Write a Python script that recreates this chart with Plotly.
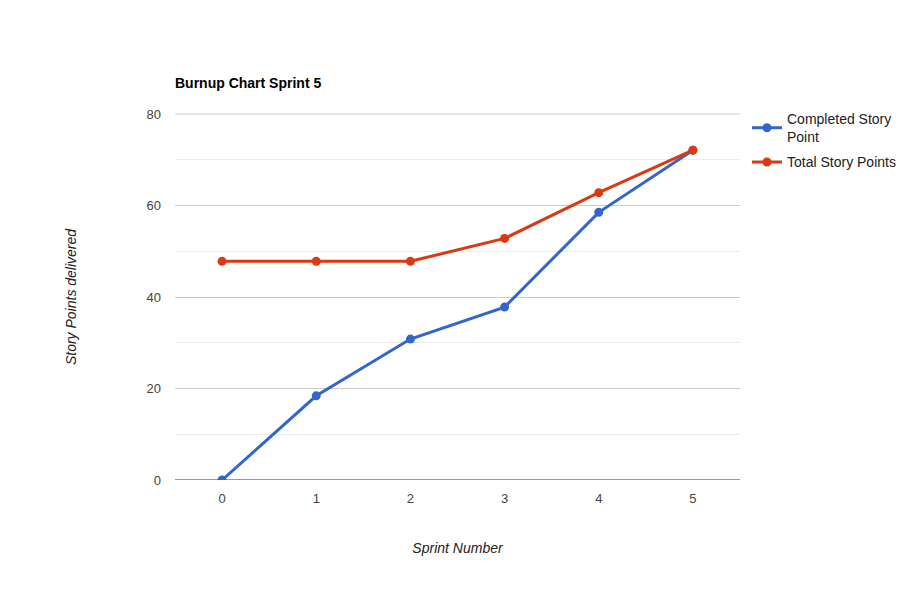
import plotly.graph_objects as go

sprints = [0, 1, 2, 3, 4, 5]
completed = [0, 18.4, 30.8, 37.8, 58.5, 72.1]
total = [47.8, 47.8, 47.8, 52.8, 62.8, 72.1]
series_names = ["Completed Story<br>Point", "Total Story Points"]
colors = ["#3366cc", "#dc3912"]

FONT = "Arial, Liberation Sans, sans-serif"

fig = go.Figure()
for i, (name, vals, c) in enumerate(zip(series_names, [completed, total], colors)):
    fig.add_trace(go.Scatter(
        x=sprints, y=vals, name=name, mode="lines+markers", legendgroup=f"g{i}",
        line=dict(color=c, width=3), marker=dict(color=c, size=9),
    ))

fig.update_layout(
    width=914, height=594,
    margin=dict(l=167, r=182, t=106, b=122),
    paper_bgcolor="white", plot_bgcolor="white",
    font=dict(family=FONT, size=13, color="#444444"),
    title=dict(text="<b>Burnup Chart Sprint 5</b>", x=167/914, xanchor="left",
               y=1-75/594, yanchor="middle",
               font=dict(family=FONT, size=14, color="#000000")),
    xaxis=dict(range=[-0.5, 5.5], tickvals=sprints, ticktext=[str(s) for s in sprints],
               showgrid=False, zeroline=False, showline=False, ticks="",
               ticklabelstandoff=9,
               tickfont=dict(size=13, color="#444444"),
               title=dict(text="<i>Sprint Number</i>", font=dict(size=14, color="#222222"), standoff=38)),
    yaxis=dict(range=[0, 80], tickvals=[0, 20, 40, 60, 80], showgrid=True, gridcolor="#cccccc",
               gridwidth=1, zeroline=False, showline=False, ticks="",
               ticklabelstandoff=13,
               minor=dict(tickvals=[10, 30, 50, 70], showgrid=True, gridcolor="#ebebeb", gridwidth=1),
               tickfont=dict(size=13, color="#444444"),
               title=dict(text="<i>Story Points delivered</i>", font=dict(size=14, color="#222222"), standoff=66)),
    legend=dict(x=(739-167)/565, xanchor="left", y=1.03, yanchor="top",
                font=dict(size=14, color="#222222"), bgcolor="rgba(0,0,0,0)",
                traceorder="grouped", tracegroupgap=4, itemwidth=30),
    showlegend=True,
)
fig.add_shape(type="line", xref="paper", yref="paper", x0=0, x1=1, y0=1, y1=1,
              line=dict(color="#cccccc", width=1), layer="below")
fig.add_shape(type="line", xref="paper", yref="y", x0=0, x1=1, y0=0, y1=0,
              line=dict(color="#333333", width=1.2), layer="below")

fig.write_html("out.html")
